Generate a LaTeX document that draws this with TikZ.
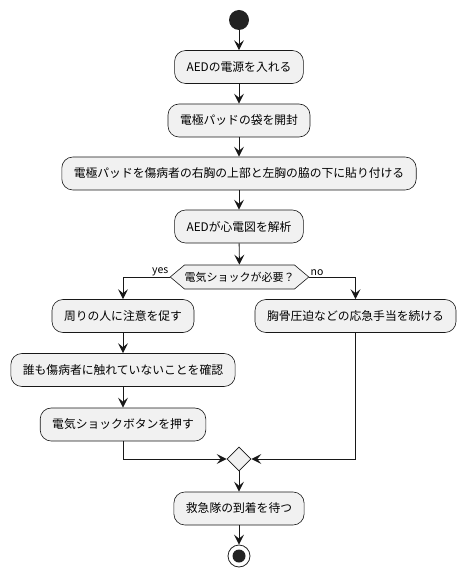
\documentclass[tikz,border=0pt]{standalone}
\usepackage{fontspec}
\setmainfont{Noto Sans CJK JP}
\usetikzlibrary{arrows.meta,shapes.symbols,shapes.geometric}
\definecolor{boxfill}{HTML}{F1F1F1}
\definecolor{lineclr}{HTML}{181818}
\definecolor{dotclr}{HTML}{222222}
\tikzset{
  act/.style = {shape=rectangle, rounded corners=11pt, draw=lineclr,
    line width=0.6pt, fill=boxfill, minimum height=33pt, inner xsep=12pt,
    font=\fontsize{11.8}{14}\selectfont},
  decide/.style = {shape=signal, signal to=west and east,
    signal pointer angle=80, draw=lineclr, line width=0.6pt, fill=boxfill,
    minimum height=24pt, inner xsep=0pt, inner ysep=0pt,
    font=\fontsize{11}{13}\selectfont},
  merge/.style = {shape=diamond, draw=lineclr, line width=0.6pt,
    fill=boxfill, minimum size=24pt, inner sep=0pt},
  startdot/.style = {shape=circle, fill=dotclr, minimum size=20pt, inner sep=0pt},
  stopdot/.style = {shape=circle, draw=dotclr, line width=0.8pt, fill=white,
    minimum size=22pt, inner sep=0pt,
    path picture={\fill[dotclr] (path picture bounding box.center) circle (6.5pt);}},
  flow/.style = {draw=lineclr, line width=0.9pt,
    -{Stealth[length=10pt,width=10pt,inset=4pt]}},
  tag/.style = {font=\fontsize{10.5}{12}\selectfont, inner sep=1pt}
}
\begin{document}
\begin{tikzpicture}[x=1pt, y=-1pt]
  \useasboundingbox (0,0) rectangle (465,577);
  % main column
  \node[startdot] (start) at (239,20) {};
  \node[act] (power) at (239,67) {AEDの電源を入れる};
  \node[act] (pads) at (239,120.5) {電極パッドの袋を開封};
  \node[act] (attach) at (239,173.5) {電極パッドを傷病者の右胸の上部と左胸の脇の下に貼り付ける};
  \node[act] (analyse) at (239,226.5) {AEDが心電図を解析};
  \node[decide] (shock) at (239.5,277) {電気ショックが必要？};
  % yes branch
  \node[act] (warn) at (123,316) {周りの人に注意を促す};
  \node[act] (check) at (123,370) {誰も傷病者に触れていないことを確認};
  \node[act] (press) at (123,424.5) {電気ショックボタンを押す};
  % no branch
  \node[act] (cpr) at (355.5,316) {胸骨圧迫などの応急手当を続ける};
  % join and end
  \node[merge] (join) at (239,459) {};
  \node[act] (wait) at (239,508.5) {救急隊の到着を待つ};
  \node[stopdot] (stop) at (239,556) {};

  \draw[flow] (start) -- (power);
  \draw[flow] (power) -- (pads);
  \draw[flow] (pads) -- (attach);
  \draw[flow] (attach) -- (analyse);
  \draw[flow] (analyse) -- (shock);
  \draw[flow] (shock.west) -| (warn.north)
    node[tag, pos=0, anchor=south east] {yes};
  \draw[flow] (shock.east) -| (cpr.north)
    node[tag, pos=0, anchor=south west] {no};
  \draw[flow] (warn) -- (check);
  \draw[flow] (check) -- (press);
  \draw[flow] (press.south) |- (join.west);
  \draw[flow] (cpr.south) |- (join.east);
  \draw[flow] (join) -- (wait);
  \draw[flow] (wait) -- (stop);
\end{tikzpicture}
\end{document}
